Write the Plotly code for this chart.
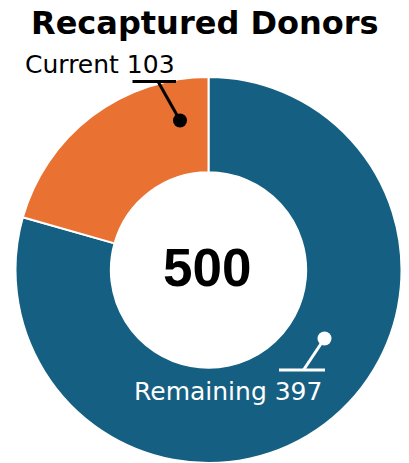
import plotly.graph_objects as go

# ---- data ----
categories = ["Remaining", "Current"]
values = [397, 103]
colors = ["#156082", "#E97132"]
title_text = "Recaptured Donors"
total = sum(values)

W, H = 409, 463

def px(x):
    return x / W

def py(y):
    return 1 - y / H

fig = go.Figure(
    go.Pie(
        labels=categories,
        values=values,
        hole=0.506,
        sort=False,
        direction="clockwise",
        rotation=0,
        textinfo="none",
        hoverinfo="label+value",
        marker=dict(colors=colors, line=dict(color="white", width=2)),
        showlegend=False,
        domain=dict(x=[px(15.5), px(401.5)], y=[0, py(77)]),
    )
)

shapes = []
line_black = dict(color="black", width=3)
line_white = dict(color="white", width=3)
# Current leader: underline + diagonal + dot
shapes.append(dict(type="line", xref="paper", yref="paper",
                   x0=px(132.5), x1=px(176), y0=py(81.5), y1=py(81.5), line=line_black))
shapes.append(dict(type="line", xref="paper", yref="paper",
                   x0=px(158), x1=px(180), y0=py(81.5), y1=py(120.5), line=line_black))
shapes.append(dict(type="circle", xref="paper", yref="paper",
                   x0=px(173), x1=px(187), y0=py(113.5), y1=py(127.5),
                   fillcolor="black", line=dict(width=0)))
# Remaining leader
shapes.append(dict(type="line", xref="paper", yref="paper",
                   x0=px(279), x1=px(325), y0=py(370), y1=py(370), line=line_white))
shapes.append(dict(type="line", xref="paper", yref="paper",
                   x0=px(303.5), x1=px(324.5), y0=py(370), y1=py(338.5), line=line_white))
shapes.append(dict(type="circle", xref="paper", yref="paper",
                   x0=px(317.5), x1=px(331.5), y0=py(331.5), y1=py(345.5),
                   fillcolor="white", line=dict(width=0)))

annotations = [
    dict(text=f"<b>{title_text}</b>", x=px(205.5), y=py(23), xref="paper", yref="paper",
         showarrow=False, xanchor="center", yanchor="middle",
         font=dict(family="DejaVu Sans", size=32, color="black")),
    dict(text=f"<b>{total}</b>", x=px(206.5), y=py(267), xref="paper", yref="paper",
         showarrow=False, xanchor="center", yanchor="middle",
         font=dict(family="Liberation Sans, Arial, sans-serif", size=53, color="black")),
    dict(text=f"{categories[1]} {values[1]}", x=px(99.5), y=py(64), xref="paper", yref="paper",
         showarrow=False, xanchor="center", yanchor="middle",
         font=dict(family="DejaVu Sans", size=25, color="black")),
    dict(text=f"{categories[0]} {values[0]}", x=px(227.5), y=py(391), xref="paper", yref="paper",
         showarrow=False, xanchor="center", yanchor="middle",
         font=dict(family="DejaVu Sans", size=25, color="white")),
]

fig.update_layout(
    width=W, height=H,
    margin=dict(l=0, r=0, t=0, b=0),
    paper_bgcolor="white",
    plot_bgcolor="white",
    shapes=shapes,
    annotations=annotations,
)

fig.write_html(
    "out.html",
    config={"displayModeBar": False},
    post_script="document.body.style.margin='0';document.body.style.overflow='hidden';",
)
